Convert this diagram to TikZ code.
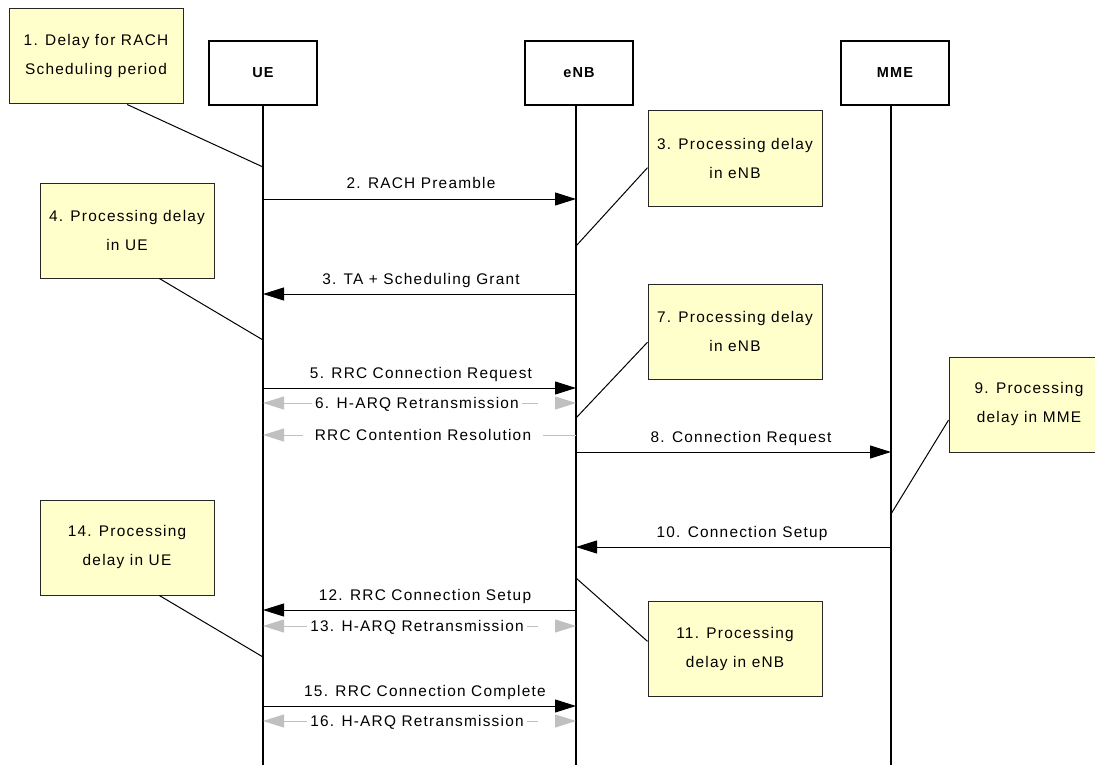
\documentclass[tikz,border=0pt]{standalone}
\usepackage{fontspec}
\setmainfont{Liberation Sans}[LetterSpace=8]
\usetikzlibrary{arrows.meta}
\definecolor{notefill}{HTML}{FFFFCC}
\definecolor{retxgray}{HTML}{C0C0C0}
\begin{document}
\begin{tikzpicture}[x=1pt,y=-1pt,
  every node/.style={font=\fontsize{15.4}{29}\selectfont},
  entity/.style={draw, line width=2.5pt, minimum width=108pt, minimum height=64pt, inner sep=0pt, font=\fontsize{14.5}{17}\selectfont\bfseries},
  note/.style={draw=black!85, line width=1pt, fill=notefill, minimum width=174pt, minimum height=95pt, align=center, inner sep=0pt},
  life/.style={line width=2pt},
  msg/.style={line width=1pt, -{Triangle[length=21pt,width=13pt]}},
  retx/.style={line width=1pt, draw=retxgray, {Triangle[length=21pt,width=13pt]}-{Triangle[length=21pt,width=13pt]}, dash pattern=on 254pt off 40pt},
  contres/.style={line width=1pt, draw=retxgray, {Triangle[length=21pt,width=13pt]}-},
  lbl/.style={anchor=base, inner sep=0pt},
  glbl/.style={anchor=base, fill=white, inner xsep=3pt, inner ysep=2pt},
  lead/.style={line width=1pt}
]
\useasboundingbox (0,0) rectangle (1095,765);
\fill[white] (0,0) rectangle (1095,765);

% entities
\node[entity] (ue)  at (263,73) {\raisebox{-3pt}{UE}};
\node[entity] (enb) at (579,73) {\raisebox{-3pt}{eNB}};
\node[entity] (mme) at (895,73) {\raisebox{-3pt}{MME}};
\coordinate (ueEnd)  at (263,765);
\coordinate (enbEnd) at (576,765);
\coordinate (mmeEnd) at (891,765);
\draw[life] (263,105) -- (ueEnd);
\draw[life] (576,105) -- (enbEnd);
\draw[life] (891,105) -- (mmeEnd);

% notes
\node[note] (n1)  at (96,56.5)   {1. Delay for RACH\\Scheduling period};
\node[note] (n3)  at (735,158.5) {3. Processing delay\\in eNB};
\node[note] (n4)  at (127,230.5) {4. Processing delay\\in UE};
\node[note] (n7)  at (735,331.5) {7. Processing delay\\in eNB};
\node[note, minimum width=160pt] (n9) at (1029,404.5) {9. Processing\\delay in MME};
\node[note] (n14) at (127,547.5) {14. Processing\\delay in UE};
\node[note] (n11) at (735,649)   {11. Processing\\delay in eNB};

% lead lines
\coordinate (a1)  at (263,167);
\coordinate (a3)  at (576,246);
\coordinate (a4)  at (263,340);
\coordinate (a7)  at (576,418);
\coordinate (a9)  at (891,514);
\coordinate (a14) at (263,657);
\coordinate (a11) at (576,578);
\draw[lead] (n1.-57)   -- (a1);
\draw[lead] (n3.186)   -- (a3);
\draw[lead] (n4.-56)   -- (a4);
\draw[lead] (n7.187)   -- (a7);
\draw[lead] (n9.191)   -- (a9);
\draw[lead] (n14.-56)  -- (a14);
\draw[lead] (n11.175.4)-- (a11);

% message end points
\coordinate (u2) at (263,199); \coordinate (e2) at (576,199);
\coordinate (u3) at (263,294); \coordinate (e3) at (576,294);
\coordinate (u5) at (263,388); \coordinate (e5) at (576,388);
\coordinate (u6) at (263,403); \coordinate (e6) at (576,403);
\coordinate (uc) at (263,435); \coordinate (ec) at (576,435);
\coordinate (e8) at (576,452); \coordinate (m8) at (891,452);
\coordinate (e10) at (576,547); \coordinate (m10) at (891,547);
\coordinate (u12) at (263,610); \coordinate (e12) at (576,610);
\coordinate (u13) at (263,626); \coordinate (e13) at (576,626);
\coordinate (u15) at (263,706); \coordinate (e15) at (576,706);
\coordinate (u16) at (263,721); \coordinate (e16) at (576,721);

% messages
\draw[msg] (u2) -- (e2);
\node[lbl] (t2) at (421,189) {2. RACH Preamble};
\draw[msg] (e3) -- (u3);
\node[lbl] (t3) at (421,284) {3. TA + Scheduling Grant};
\draw[msg] (u5) -- (e5);
\node[lbl] (t5) at (421,378) {5. RRC Connection Request};
\draw[retx] (u6) -- (e6);
\node[glbl] (t6) at (417,408) {6. H-ARQ Retransmission};
\draw[contres] (uc) -- (ec);
\node[glbl, inner xsep=12pt] (tc) at (423,440) {RRC Contention Resolution};
\draw[msg] (e8) -- (m8);
\node[lbl] (t8) at (741,442) {8. Connection Request};
\draw[msg] (m10) -- (e10);
\node[lbl] (t10) at (742,537) {10. Connection Setup};
\draw[msg] (e12) -- (u12);
\node[lbl] (t12) at (425,600) {12. RRC Connection Setup};
\draw[retx] (u13) -- (e13);
\node[glbl] (t13) at (417,631) {13. H-ARQ Retransmission};
\draw[msg] (u15) -- (e15);
\node[lbl] (t15) at (425,696) {15. RRC Connection Complete};
\draw[retx] (u16) -- (e16);
\node[glbl] (t16) at (417,726) {16. H-ARQ Retransmission};
\end{tikzpicture}
\end{document}
